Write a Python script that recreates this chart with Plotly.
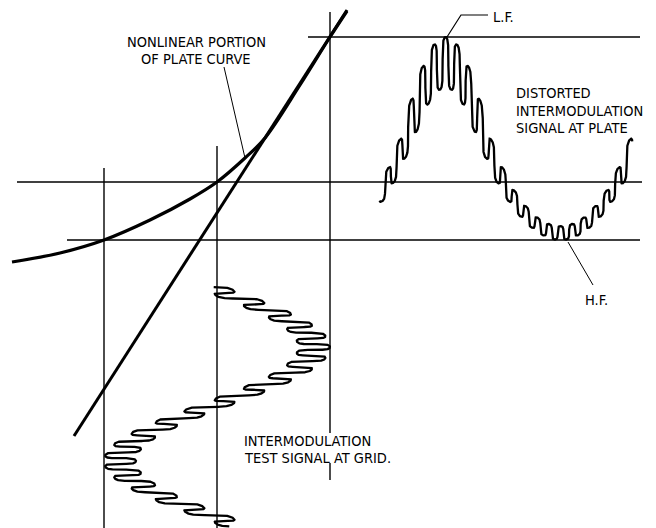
import numpy as np
import plotly.graph_objects as go

# ---------------- data (pixel-space units) ----------------
# plate characteristic: grid voltage (x) -> plate current (y, downward positive)
plate_curve_x = [12, 60, 104, 150, 190, 217, 245, 265, 300, 330, 347]
plate_curve_y = [262, 253, 240, 220, 199, 182, 158, 138, 85, 37, 11]
# linear (ideal) characteristic
linear_x = [74, 347]
linear_y = [436, 10]

# intermodulation test signal at grid
grid_bias = 217          # operating point
lf_amplitude = 97        # low-frequency component
hf_amplitude = 16        # high-frequency component
hf_cycles_per_lf = 20
hf_squareness = 0.5      # pen-drawn rounded ends
hf_step = 0.85
grid_time_start, grid_time_end = -0.012, 1.035
grid_time_origin, grid_time_scale = 290, 228
plate_time_start, plate_time_end = -0.035, 1.06
plate_time_origin, plate_time_scale = 388, 230

labels = {
    "curve": ["NONLINEAR PORTION", "OF PLATE CURVE"],
    "plate": ["DISTORTED", "INTERMODULATION", "SIGNAL AT PLATE"],
    "grid": ["INTERMODULATION", "TEST SIGNAL AT GRID."],
    "lf": "L.F.",
    "hf": "H.F.",
}

# ---------------- derived signals ----------------
def transfer(v):
    return np.interp(v, plate_curve_x, plate_curve_y)

def hf_phase(t):
    return 2 * np.pi * hf_cycles_per_lf * t

def grid_signal(t):
    c = np.cos(hf_phase(t))
    hf = np.sign(c) * np.abs(c) ** hf_squareness
    return grid_bias + lf_amplitude * np.sin(2 * np.pi * t) + hf_amplitude * hf

def sweep(t):
    # time axis of the drawing, advancing mostly while the HF pen turns
    th = hf_phase(t)
    return t + hf_step * np.sin(2 * th) / (4 * np.pi * hf_cycles_per_lf)

tg = np.linspace(grid_time_start, grid_time_end, 12000)
gx = grid_signal(tg)
gy = grid_time_origin + grid_time_scale * sweep(tg)

tp = np.linspace(plate_time_start, plate_time_end, 12000)
px = plate_time_origin + plate_time_scale * sweep(tp)
py = transfer(grid_signal(tp))

grid_min = grid_bias - lf_amplitude - hf_amplitude
grid_max = grid_bias + lf_amplitude + hf_amplitude
level_low, level_mid, level_high = transfer([grid_min, grid_bias, grid_max])

fig = go.Figure()
K = "black"

def line(x, y, w, shape="linear"):
    fig.add_trace(go.Scatter(x=x, y=y, mode="lines", hoverinfo="skip",
                             line=dict(color=K, width=w, shape=shape, smoothing=1.0)))

# projection lines
line([17, 642], [level_mid, level_mid], 1.4)
line([67, 640], [level_low, level_low], 1.4)
line([308, 640], [level_high, level_high], 1.4)
line([grid_min, grid_min], [168, 528], 1.4)
line([grid_bias, grid_bias], [146, 528], 1.4)
line([grid_max, grid_max], [12, 433], 1.4)
line([grid_max, grid_max], [463, 480], 1.4)

# characteristics
line(plate_curve_x, plate_curve_y, 3.2, "spline")
line(linear_x, linear_y, 3.0)

# signals
line(gx, gy, 2.3)
line(px, py, 2.3)

# leaders
line([224, 245], [67, 158], 1.0)
line([447, 461, 488], [37, 15, 15], 1.2)
line([568, 593], [242, 285], 1.0)

FONT = "DejaVu Sans Condensed, Liberation Sans Narrow, Roboto, sans-serif"

def text(x, y, s, anchor="left", size=14.5):
    fig.add_annotation(x=x, y=y, text=s, showarrow=False, xanchor=anchor,
                       yanchor="middle", font=dict(family=FONT, size=size, color=K))

text(196, 42, labels["curve"][0], "center")
text(196, 59, labels["curve"][1], "center")
for i, s in enumerate(labels["plate"]):
    text(514, 93 + 17.5 * i, s)
text(491, 17, labels["lf"])
text(596, 300, labels["hf"], "center")
text(242, 441, labels["grid"][0])
text(242, 458, labels["grid"][1])

fig.update_layout(
    width=656, height=528, margin=dict(l=0, r=0, t=0, b=0),
    paper_bgcolor="white", plot_bgcolor="white", showlegend=False,
    xaxis=dict(range=[0, 656], visible=False, fixedrange=True),
    yaxis=dict(range=[528, 0], visible=False, fixedrange=True),
)
fig.write_html("out.html", config={"displayModeBar": False},
               post_script="document.body.style.margin='0';document.body.style.overflow='hidden';")
